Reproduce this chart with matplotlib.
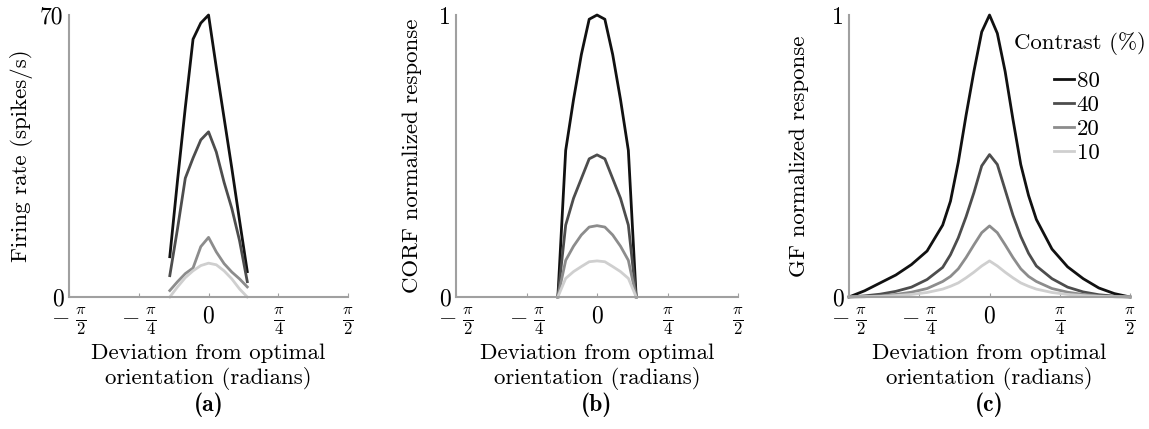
import numpy as np
import matplotlib
matplotlib.use("Agg")
import matplotlib.pyplot as plt
import matplotlib.transforms as mtransforms

plt.rcParams['font.family'] = 'cmr10'
plt.rcParams['mathtext.fontset'] = 'cm'
plt.rcParams['axes.formatter.use_mathtext'] = True

# orientation samples (degrees)
deg_ab = [-25, -20, -15, -10, -5, 0, 5, 10, 15, 20, 25]
deg_c = [-90, -80, -70, -60, -50, -40, -30, -25, -20, -15, -10, -5, 0,
         5, 10, 15, 20, 25, 30, 40, 50, 60, 70, 80, 90]

contrasts = ['80', '40', '20', '10']
colors = ['#111111', '#4d4d4d', '#8c8c8c', '#cfcfcf']

# (a) recorded firing rates (spikes/s)
rate_80 = [10.0, 29.0, 47.0, 64.0, 68.0, 70.0, 57.0, 44.5, 32.0, 19.0, 6.3]
rate_40 = [5.3, 17.0, 29.5, 34.5, 39.0, 41.0, 36.0, 28.5, 22.0, 14.0, 3.8]
rate_20 = [1.6, 3.8, 5.8, 7.2, 12.5, 14.8, 11.2, 8.3, 6.2, 4.5, 2.5]
rate_10 = [0.0, 2.5, 4.8, 6.5, 7.8, 8.4, 8.0, 6.5, 4.5, 2.0, 0.0]

# (b) CORF normalized response
corf_80 = [0.0, 0.52, 0.70, 0.86, 0.985, 1.0, 0.985, 0.86, 0.70, 0.52, 0.0]
corf_40 = [0.0, 0.255, 0.35, 0.42, 0.49, 0.504, 0.49, 0.42, 0.35, 0.255, 0.0]
corf_20 = [0.0, 0.13, 0.18, 0.22, 0.248, 0.253, 0.248, 0.22, 0.18, 0.13, 0.0]
corf_10 = [0.0, 0.066, 0.09, 0.108, 0.125, 0.128, 0.125, 0.108, 0.09, 0.066, 0.0]

# (c) GF normalized response
gf_80 = [0.0, 0.022, 0.05, 0.078, 0.115, 0.163, 0.255, 0.34, 0.478, 0.645, 0.80, 0.94, 1.0,
         0.935, 0.80, 0.63, 0.47, 0.36, 0.275, 0.17, 0.107, 0.065, 0.032, 0.012, 0.0]
gf_40 = [0.0, 0.004, 0.01, 0.02, 0.035, 0.062, 0.105, 0.15, 0.21, 0.285, 0.37, 0.465, 0.505,
         0.47, 0.38, 0.29, 0.215, 0.155, 0.11, 0.065, 0.035, 0.018, 0.008, 0.003, 0.0]
gf_20 = [0.0, 0.001, 0.004, 0.009, 0.017, 0.03, 0.055, 0.073, 0.10, 0.14, 0.185, 0.228, 0.252,
         0.228, 0.185, 0.14, 0.10, 0.073, 0.055, 0.03, 0.017, 0.009, 0.004, 0.001, 0.0]
gf_10 = [0.0, 0.001, 0.002, 0.005, 0.009, 0.016, 0.028, 0.038, 0.05, 0.068, 0.088, 0.11, 0.128,
         0.11, 0.088, 0.068, 0.05, 0.038, 0.028, 0.016, 0.009, 0.005, 0.002, 0.001, 0.0]

xticks = [-np.pi / 2, -np.pi / 4, 0, np.pi / 4, np.pi / 2]
xticklabels = [r'$-\;\frac{\pi}{2}$', r'$-\;\frac{\pi}{4}$', r'$0$', r'$\frac{\pi}{4}$', r'$\frac{\pi}{2}$']

fig = plt.figure(figsize=(11.49, 4.29), dpi=100)
# negative labels sit with the fraction over the tick, minus sign hanging left
shift_left = mtransforms.ScaledTranslation(-0.09, 0, fig.dpi_scale_trans)

panels = [
    ([0.0601, 0.3077, 0.2428, 0.6573], deg_ab, [rate_80, rate_40, rate_20, rate_10],
     70, 'Firing rate (spikes/s)', 5, '(a)'),
    ([0.3969, 0.3077, 0.2454, 0.6573], deg_ab, [corf_80, corf_40, corf_20, corf_10],
     1, 'CORF normalized response', 12, '(b)'),
    ([0.7389, 0.3077, 0.2446, 0.6573], deg_c, [gf_80, gf_40, gf_20, gf_10],
     1, 'GF normalized response', 16, '(c)'),
]

for pos, deg, series, ymax, ylabel, ypad, tag in panels:
    ax = fig.add_axes(pos)
    x = np.radians(deg)
    for vals, col, lab in zip(series, colors, contrasts):
        ax.plot(x, vals, color=col, lw=2.0, label=lab, clip_on=False)
    ax.set_xlim(-np.pi / 2, np.pi / 2)
    ax.set_ylim(0, ymax)
    ax.set_xticks(xticks)
    ax.set_xticklabels(xticklabels, fontsize=17)
    for lbl in ax.get_xticklabels()[:2]:
        lbl.set_transform(lbl.get_transform() + shift_left)
    ax.set_yticks([0, ymax])
    ax.set_yticklabels(['0', str(ymax)], fontsize=17)
    for side in ['top', 'right']:
        ax.spines[side].set_visible(False)
    for side in ['left', 'bottom']:
        ax.spines[side].set_color('#a0a0a0')
        ax.spines[side].set_linewidth(1.5)
    ax.tick_params(axis='x', direction='in', length=3, color='#a0a0a0', pad=6)
    ax.tick_params(axis='y', length=0, pad=4)
    ax.set_ylabel(ylabel, fontsize=16.5, labelpad=ypad)
    ax.set_xlabel('Deviation from optimal\norientation (radians)', fontsize=16.5, labelpad=5)
    fig.text(pos[0] + pos[2] / 2, 1 - 405 / 429, tag, ha='center', va='center',
             fontsize=17, family='cmb10')

# legend of panel (c)
ax.text(0.822, 0.90, 'Contrast (%)', transform=ax.transAxes, fontsize=16.5,
        ha='center', va='center', clip_on=False)
leg = ax.legend(loc='upper left', bbox_to_anchor=(0.728, 0.80),
                frameon=False, fontsize=16.5, handlelength=0.9,
                handletextpad=0.1, labelspacing=0.16, borderpad=0, borderaxespad=0)

fig.savefig('out.png', dpi=100)
